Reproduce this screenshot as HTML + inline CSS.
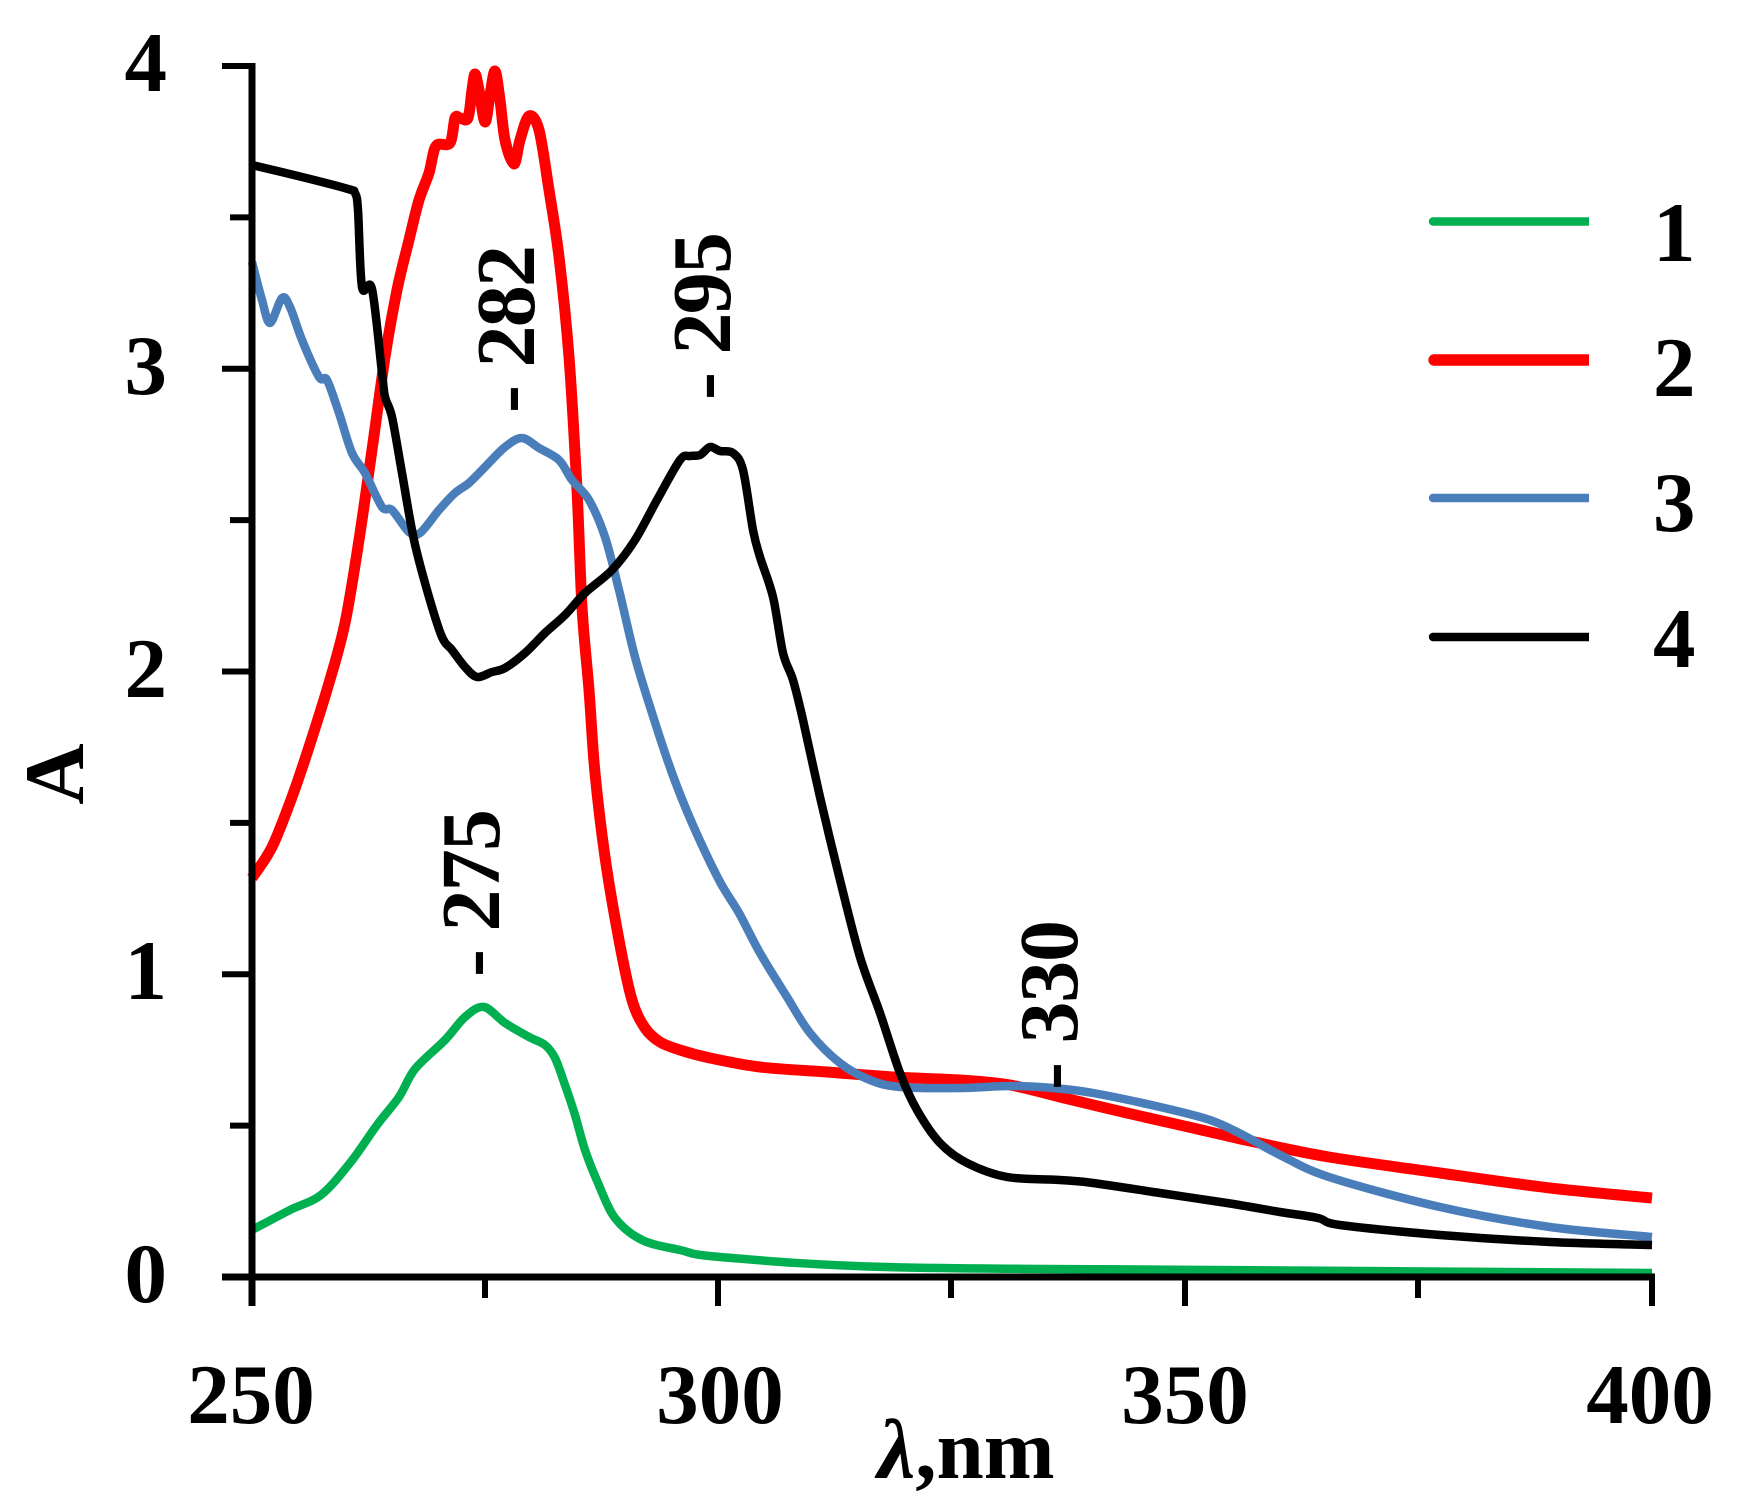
<!DOCTYPE html>
<html>
<head>
<meta charset="utf-8">
<style>
  html, body { margin: 0; padding: 0; background: #ffffff; }
  svg { display: block; }
  text { font-family: "Liberation Serif", "DejaVu Serif", serif; font-weight: bold; fill: #000; }
</style>
</head>
<body>
<svg id="chart" width="1737" height="1510" viewBox="0 0 1737 1510" xmlns="http://www.w3.org/2000/svg">
  <rect x="0" y="0" width="1737" height="1510" fill="#ffffff"/>

  <!-- Series 2 (red) -->
  <polyline class="s" fill="none" stroke="#ff0000" stroke-width="11" stroke-linejoin="round" stroke-linecap="butt"
    points="252,878 272,847 292,797 309,747 329,683 345,623 359,540 372,450 385,357 397,290 409,240 419,200 429,173 436,146 450,143 455,118 460,118 468,118 472,90 475,74 479,90 485,122 490,95 495,71 500,100 505,140 514,164 520,140 529,116 539,130 549,190 559,257 569,357 577,490 582,607 589,690 595,773 605,857 619,940 632,1000 645,1028 660,1042 680,1050 710,1058 760,1067 827,1072 893,1077 960,1080 1010,1085 1060,1097 1127,1113 1193,1128 1250,1141 1329,1157 1440,1173 1550,1188 1652,1198"/>

  <!-- Series 3 (blue) -->
  <polyline class="s" fill="none" stroke="#4a7ebb" stroke-width="8.5" stroke-linejoin="round" stroke-linecap="butt"
    points="252,262 262,300 270,323 282,298 290,307 302,340 319,377 327,380 339,413 352,453 365,473 382,507 392,510 409,532 420,533 439,510 455,493 469,483 485,467 505,447 522,438 539,448 559,460 572,480 589,500 605,537 619,590 635,657 652,713 672,773 692,823 719,880 739,913 760,953 787,997 810,1033 840,1063 870,1080 900,1087 960,1088 1010,1086 1053,1088 1093,1093 1160,1107 1210,1120 1243,1135 1280,1155 1329,1177 1440,1207 1550,1227 1652,1237"/>

  <!-- Series 4 (black) -->
  <polyline class="s" fill="none" stroke="#000000" stroke-width="8.5" stroke-linejoin="round" stroke-linecap="butt"
    points="252,165 302,177 348,189 355,193 358,210 362,287 372,289 382,373 385,397 392,417 402,473 414,540 429,597 442,637 452,650 465,667 477,677 492,672 505,668 525,653 545,633 565,615 585,593 612,570 635,540 657,500 680,460 690,456 700,455 710,447 720,451 733,453 743,470 753,530 760,557 773,597 783,653 793,680 803,720 820,797 840,880 860,957 880,1013 900,1073 917,1110 940,1143 967,1163 1007,1177 1060,1180 1093,1183 1160,1193 1227,1203 1280,1212 1318,1218 1340,1225 1440,1235 1550,1242 1652,1245"/>

  <!-- Series 1 (green) -->
  <polyline class="s" fill="none" stroke="#00b050" stroke-width="8.5" stroke-linejoin="round" stroke-linecap="butt"
    points="252,1230 290,1210 321,1195 350,1163 377,1125 399,1097 415,1069 445,1040 465,1017 484,1007 505,1023 529,1037 545,1045 555,1058 565,1085 575,1115 585,1150 598,1183 615,1218 642,1240 680,1250 720,1257 886,1267 1218,1270 1652,1273"/>

  <!-- Axes -->
  <g stroke="#000" fill="none">
    <line x1="252" y1="63" x2="252" y2="1306" stroke-width="7"/>
    <line x1="222" y1="1277" x2="1655" y2="1277" stroke-width="7"/>
    <line x1="222" y1="66" x2="252" y2="66" stroke-width="6"/>
    <line x1="222" y1="368.75" x2="252" y2="368.75" stroke-width="6"/>
    <line x1="222" y1="671.5" x2="252" y2="671.5" stroke-width="6"/>
    <line x1="222" y1="974.25" x2="252" y2="974.25" stroke-width="6"/>
    <line x1="230" y1="217.4" x2="252" y2="217.4" stroke-width="6"/>
    <line x1="230" y1="520.1" x2="252" y2="520.1" stroke-width="6"/>
    <line x1="230" y1="822.9" x2="252" y2="822.9" stroke-width="6"/>
    <line x1="230" y1="1125.6" x2="252" y2="1125.6" stroke-width="6"/>
    <line x1="718" y1="1277" x2="718" y2="1306" stroke-width="6"/>
    <line x1="1185" y1="1277" x2="1185" y2="1306" stroke-width="6"/>
    <line x1="1652" y1="1277" x2="1652" y2="1306" stroke-width="6"/>
    <line x1="485" y1="1277" x2="485" y2="1298" stroke-width="6"/>
    <line x1="951" y1="1277" x2="951" y2="1298" stroke-width="6"/>
    <line x1="1418" y1="1277" x2="1418" y2="1298" stroke-width="6"/>
  </g>

  <!-- Y tick labels -->
  <g font-size="85" text-anchor="end">
    <text x="167" y="91">4</text>
    <text x="167" y="394">3</text>
    <text x="167" y="697">2</text>
    <text x="167" y="999">1</text>
    <text x="167" y="1302">0</text>
  </g>

  <!-- X tick labels -->
  <g font-size="85" text-anchor="middle">
    <text x="251" y="1423">250</text>
    <text x="720" y="1423">300</text>
    <text x="1185" y="1423">350</text>
    <text x="1650" y="1423">400</text>
  </g>

  <!-- Axis titles -->
  <text x="966" y="1478" font-size="85" text-anchor="middle"><tspan font-style="italic">λ</tspan>,nm</text>
  <text transform="translate(83,774) rotate(-90)" font-size="85" text-anchor="middle">A</text>

  <!-- Peak labels (rotated) -->
  <g font-size="84">
    <text transform="translate(534,413) rotate(-90)" textLength="168" lengthAdjust="spacing">- 282</text>
    <text transform="translate(730,400) rotate(-90)" textLength="168" lengthAdjust="spacing">- 295</text>
    <text transform="translate(499,977) rotate(-90)" textLength="168" lengthAdjust="spacing">- 275</text>
    <text transform="translate(1077,1090) rotate(-90)" textLength="170" lengthAdjust="spacing">- 330</text>
  </g>

  <!-- Legend -->
  <g fill="none">
    <line x1="1433" y1="221.5" x2="1589" y2="221.5" stroke="#00b050" stroke-width="8.5" stroke-linecap="butt"/>
    <circle cx="1433" cy="221.5" r="4.2" fill="#00b050"/>
    <line x1="1434" y1="360" x2="1589" y2="360" stroke="#ff0000" stroke-width="11.5" stroke-linecap="butt"/>
    <circle cx="1434" cy="360" r="5.7" fill="#ff0000"/>
    <line x1="1433" y1="498" x2="1589" y2="498" stroke="#4a7ebb" stroke-width="8.5" stroke-linecap="butt"/>
    <circle cx="1433" cy="498" r="4.2" fill="#4a7ebb"/>
    <line x1="1433" y1="637" x2="1589" y2="637" stroke="#000000" stroke-width="8.5" stroke-linecap="butt"/>
    <circle cx="1433" cy="637" r="4.2" fill="#000000"/>
  </g>
  <g font-size="85">
    <text x="1653" y="261">1</text>
    <text x="1653" y="396">2</text>
    <text x="1653" y="531">3</text>
    <text x="1653" y="667">4</text>
  </g>
</svg>
<script>
(function () {
  try {
    var NS = "http://www.w3.org/2000/svg";
    var lines = document.querySelectorAll("polyline.s");
    for (var i = 0; i < lines.length; i++) {
      var pl = lines[i];
      var nums = pl.getAttribute("points").trim().split(/[\s,]+/).map(Number);
      var p = [];
      for (var k = 0; k + 1 < nums.length; k += 2) p.push([nums[k], nums[k + 1]]);
      if (p.length < 3) continue;
      var d = "M" + p[0][0] + "," + p[0][1];
      for (var j = 0; j < p.length - 1; j++) {
        var p0 = p[j > 0 ? j - 1 : 0], p1 = p[j], p2 = p[j + 1], p3 = p[j + 2 < p.length ? j + 2 : p.length - 1];
        var t = 0.16;
        var c1x = p1[0] + (p2[0] - p0[0]) * t, c1y = p1[1] + (p2[1] - p0[1]) * t;
        var c2x = p2[0] - (p3[0] - p1[0]) * t, c2y = p2[1] - (p3[1] - p1[1]) * t;
        d += " C" + c1x.toFixed(1) + "," + c1y.toFixed(1) + " " + c2x.toFixed(1) + "," + c2y.toFixed(1) + " " + p2[0] + "," + p2[1];
      }
      var path = document.createElementNS(NS, "path");
      path.setAttribute("d", d);
      ["fill", "stroke", "stroke-width", "stroke-linejoin", "stroke-linecap"].forEach(function (a) {
        if (pl.getAttribute(a) !== null) path.setAttribute(a, pl.getAttribute(a));
      });
      pl.parentNode.replaceChild(path, pl);
    }
  } catch (e) {}
})();
</script>
</body>
</html>
